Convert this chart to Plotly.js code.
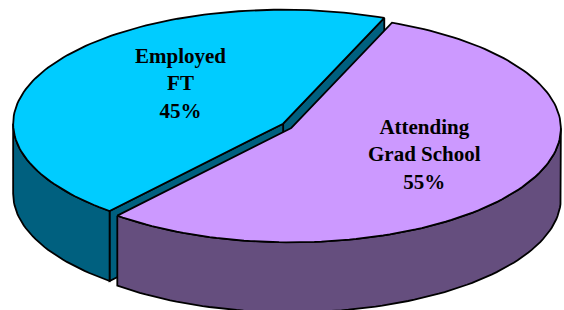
<!DOCTYPE html>
<html>
<head>
<meta charset="utf-8">
<script src="https://cdn.plot.ly/plotly-3.0.1.min.js"></script>
<style>html,body{margin:0;padding:0;background:#fff;}#chart{width:564px;height:310px;}</style>
</head>
<body>
<div id="chart"></div>
<script>
// ---- data ----
const categories = ['Employed FT', 'Attending Grad School'];
const values = [45, 55];
const labelLines = [['Employed', 'FT'], ['Attending', 'Grad School']];
const topColors = ['#00CCFF', '#CC99FF'];
const sideColors = ['#00607F', '#654E7E'];

// ---- geometry (pixel space of a 564x310 plot) ----
const W = 564, H = 310;
const CX = 287, CY = 126;     // pie centre
const RX = 270, RY = 114;     // ellipse radii
const DEPTH = 70;             // thickness
const START = 68;             // start angle (deg, CCW)
const EXPLODE = 4.5;          // px each slice is pulled out
const labelPos = [[180, 83], [424, 154]];

const rad = d => d * Math.PI / 180;
const total = values.reduce((a, b) => a + b, 0);

let acc = START;
const slices = values.map((v, i) => {
  const a = acc, b = acc + v / total * 360;
  acc = b;
  const mid = rad((a + b) / 2);
  const dx = Math.cos(mid), dy = -Math.sin(mid);
  const n = Math.hypot(dx, dy);
  return {i, a, b, cx: CX + EXPLODE * dx / n, cy: CY + EXPLODE * dy / n, midSin: Math.sin(mid)};
});

function pt(s, t, d) { return [s.cx + RX * Math.cos(rad(t)), s.cy - RY * Math.sin(rad(t)) + d]; }
function arc(s, t0, t1, d) {
  const pts = [], n = Math.max(2, Math.ceil(Math.abs(t1 - t0) / 1.5));
  for (let k = 0; k <= n; k++) pts.push(pt(s, t0 + (t1 - t0) * k / n, d));
  return pts;
}
function poly(pts, fill) {
  const x = pts.map(p => p[0]), y = pts.map(p => p[1]);
  x.push(x[0]); y.push(y[0]);
  return {type: 'scatter', mode: 'lines', x, y, fill: 'toself', fillcolor: fill,
    line: {color: '#000', width: 1.8}, hoverinfo: 'skip', showlegend: false};
}

const traces = [];
slices.slice().sort((p, q) => q.midSin - p.midSin).forEach(s => {
  const side = sideColors[s.i];
  const c0 = [s.cx, s.cy], c1 = [s.cx, s.cy + DEPTH];
  if (Math.cos(rad(s.a)) > 0) {
    traces.push(poly([c0, pt(s, s.a, 0), pt(s, s.a, DEPTH), c1], side));
  }
  if (Math.cos(rad(s.b)) < 0) {
    traces.push(poly([c0, pt(s, s.b, 0), pt(s, s.b, DEPTH), c1], side));
  }
  for (let k = -1; k <= 2; k++) {
    const lo = Math.max(s.a, 180 + 360 * k), hi = Math.min(s.b, 360 + 360 * k);
    if (lo < hi) traces.push(poly(arc(s, lo, hi, 0).concat(arc(s, hi, lo, DEPTH)), side));
  }
  traces.push(poly([[s.cx, s.cy]].concat(arc(s, s.a, s.b, 0)), topColors[s.i]));
});

const annotations = slices.map(s => ({
  x: labelPos[s.i][0], y: labelPos[s.i][1], xref: 'x', yref: 'y', showarrow: false,
  text: '<b>' + labelLines[s.i].join('<br>') + '<br>' + Math.round(values[s.i] / total * 100) + '%</b>',
  font: {family: 'Liberation Serif', size: 21, color: '#000'},
  align: 'center'
}));

Plotly.newPlot('chart', traces, {
  width: W, height: H, margin: {l: 0, r: 0, t: 0, b: 0},
  paper_bgcolor: '#fff', plot_bgcolor: '#fff',
  xaxis: {range: [0, W], visible: false, fixedrange: true},
  yaxis: {range: [H, 0], visible: false, fixedrange: true},
  annotations, showlegend: false
}, {staticPlot: true});
</script>
</body>
</html>
